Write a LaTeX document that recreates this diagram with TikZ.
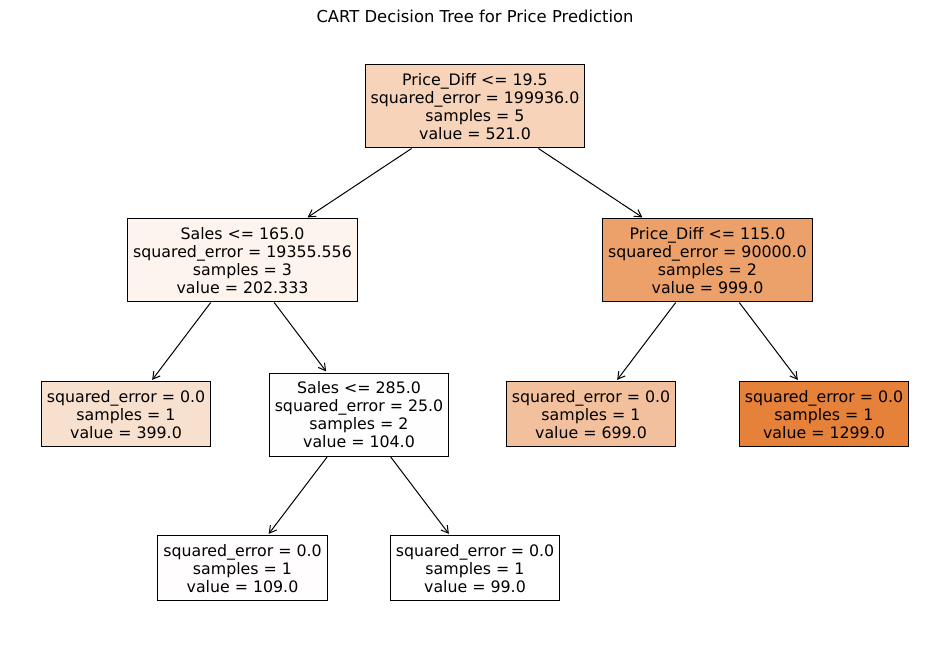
\documentclass[tikz,border=0pt]{standalone}
\usepackage{fontspec}
\setmainfont{DejaVu Sans}
\usepackage{tikz}
\usetikzlibrary{arrows.meta}
\definecolor{v521}{RGB}{246,211,185}
\definecolor{v202}{RGB}{253,244,238}
\definecolor{v999}{RGB}{236,161,107}
\definecolor{v399}{RGB}{248,224,206}
\definecolor{v104}{RGB}{255,254,254}
\definecolor{v699}{RGB}{242,192,156}
\definecolor{v1299}{RGB}{229,129,57}
\definecolor{v109}{RGB}{255,253,253}
\tikzset{
  box/.style = {draw, line width=0.5pt, align=center, inner xsep=2.8pt, inner ysep=0pt,
                font=\fontsize{7.9}{9}\selectfont},
  splitbox/.style = {box, minimum height=41.5pt},
  leafbox/.style = {box, minimum height=32.5pt},
  edge/.style = {-{Straight Barb[length=3.5pt,width=4pt]}, line width=0.5pt, shorten >=1pt}
}
\begin{document}
\begin{tikzpicture}[x=0.5pt, y=-0.5pt]
\useasboundingbox (0,0) rectangle (950,656);
\node [anchor=base, font=\fontsize{8.2}{10}\selectfont] (title) at (475,23) {CART Decision Tree for Price Prediction};
              %split nodes
\node [splitbox, fill=v521] (root) at (475,106.5) {Price\_Diff <= 19.5\\squared\_error = 199936.0\\samples = 5\\value = 521.0};
\node [splitbox, fill=v202] (sales1) at (242.5,260.5) {Sales <= 165.0\\squared\_error = 19355.556\\samples = 3\\value = 202.333};
\node [splitbox, fill=v999] (diff2) at (707.5,260.5) {Price\_Diff <= 115.0\\squared\_error = 90000.0\\samples = 2\\value = 999.0};
\node [splitbox, fill=v104] (sales2) at (359,415) {Sales <= 285.0\\squared\_error = 25.0\\samples = 2\\value = 104.0};
              %leaves
\node [leafbox, fill=v399] (leafA) at (126,414.5) {squared\_error = 0.0\\samples = 1\\value = 399.0};
\node [leafbox, fill=v699] (leafB) at (591,414.5) {squared\_error = 0.0\\samples = 1\\value = 699.0};
\node [leafbox, fill=v1299] (leafC) at (824,414.5) {squared\_error = 0.0\\samples = 1\\value = 1299.0};
\node [leafbox, fill=v109] (leafD) at (242.5,568.5) {squared\_error = 0.0\\samples = 1\\value = 109.0};
\node [leafbox, fill=white] (leafE) at (475,568.5) {squared\_error = 0.0\\samples = 1\\value = 99.0};
              %arrows
\foreach \a/\b in {root/sales1, root/diff2, sales1/leafA, sales1/sales2, diff2/leafB, diff2/leafC, sales2/leafD, sales2/leafE}{
\draw [edge] (\a) -- (\b);
}
\end{tikzpicture}
\end{document}
